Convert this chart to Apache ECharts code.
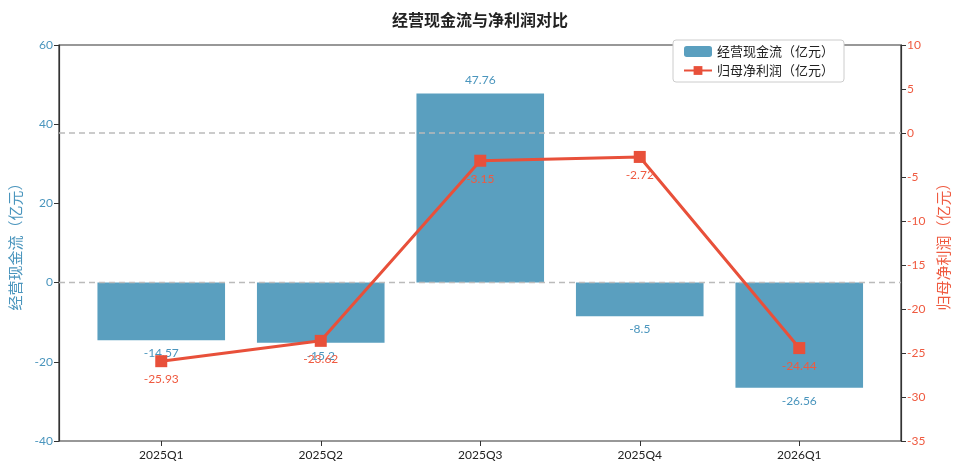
<!DOCTYPE html>
<html>
<head>
<meta charset="utf-8">
<script src="https://cdn.jsdelivr.net/npm/echarts@6/dist/echarts.min.js"></script>
<style>
  html, body { margin: 0; padding: 0; background: #fff; }
  #main { width: 960px; height: 473px; }
</style>
</head>
<body>
<div id="main"></div>
<script>
// 数据
var quarters = ['2025Q1', '2025Q2', '2025Q3', '2025Q4', '2026Q1']
var cashFlow = [-14.57, -15.2, 47.76, -8.5, -26.56]
var netProfit = [-25.93, -23.62, -3.15, -2.72, -24.44]

var barColor = '#5a9fbf'
var lineColor = '#e8503a'
var leftText = '#4a95bd'
var rightText = '#ef5a40'
var font = "Lato, 'Noto Sans CJK SC', sans-serif"

var chart = echarts.init(document.getElementById('main'))
chart.setOption({
  animation: false,
  textStyle: { fontFamily: font },
  title: {
    text: '经营现金流与净利润对比',
    left: 'center',
    top: 8,
    textStyle: { fontSize: 16, fontWeight: 'bold', color: '#222', fontFamily: font }
  },
  legend: {
    data: ['经营现金流（亿元）', '归母净利润（亿元）'],
    orient: 'vertical',
    left: 673,
    top: 40,
    padding: [5, 10],
    itemGap: 6,
    itemWidth: 28,
    itemHeight: 11,
    borderColor: '#ccc',
    borderWidth: 1,
    borderRadius: 3,
    backgroundColor: '#fff',
    textStyle: { fontSize: 13, color: '#222' }
  },
  grid: [
    // 外框
    { left: 59, right: 59, top: 45, bottom: 32, show: true, borderColor: '#333', borderWidth: 1.2 },
    // 柱子所在区域
    { left: 81.5, right: 81, top: 45, bottom: 32 }
  ],
  xAxis: [
    { type: 'value', gridIndex: 0, min: 0, max: 1, show: false },
    {
      type: 'category',
      gridIndex: 1,
      data: quarters,
      axisLine: { show: false, onZero: false },
      axisTick: { show: true, alignWithLabel: true, length: 5, lineStyle: { color: '#333' } },
      axisLabel: { color: '#222', fontSize: 12, margin: 8 }
    }
  ],
  yAxis: [
    {
      type: 'value',
      gridIndex: 0,
      position: 'left',
      min: -40,
      max: 60,
      interval: 20,
      name: '经营现金流（亿元）',
      nameLocation: 'middle',
      nameRotate: 90,
      nameGap: 33,
      nameTextStyle: { color: leftText, fontSize: 15 },
      axisLine: { show: true, lineStyle: { color: '#333', width: 1.2 } },
      axisTick: { show: true, length: 5, lineStyle: { color: '#333' } },
      axisLabel: { color: leftText, fontSize: 12, margin: 6 },
      splitLine: { show: false }
    },
    {
      type: 'value',
      gridIndex: 0,
      position: 'right',
      min: -35,
      max: 10,
      interval: 5,
      name: '归母净利润（亿元）',
      nameLocation: 'middle',
      nameRotate: 90,
      nameGap: 34,
      nameTextStyle: { color: rightText, fontSize: 15 },
      axisLine: { show: true, lineStyle: { color: '#333', width: 1.2 } },
      axisTick: { show: true, length: 5, lineStyle: { color: '#333' } },
      axisLabel: { color: rightText, fontSize: 12, margin: 6 },
      splitLine: { show: false }
    },
    { type: 'value', gridIndex: 1, min: -40, max: 60, show: false },
    { type: 'value', gridIndex: 1, min: -35, max: 10, show: false }
  ],
  series: [
    {
      name: '经营现金流（亿元）',
      type: 'bar',
      xAxisIndex: 1,
      yAxisIndex: 2,
      // 负值标签放到柱子下方
      data: cashFlow.map(function (v) {
        return { value: v, label: { position: v < 0 ? 'bottom' : 'top' } }
      }),
      barWidth: '80%',
      z: 2,
      itemStyle: { color: barColor },
      label: {
        show: true,
        color: leftText,
        fontSize: 12,
        distance: 7
      }
    },
    {
      name: '归母净利润（亿元）',
      type: 'line',
      xAxisIndex: 1,
      yAxisIndex: 3,
      data: netProfit,
      z: 5,
      symbol: 'rect',
      symbolSize: 12,
      lineStyle: { color: lineColor, width: 3 },
      itemStyle: { color: lineColor },
      label: {
        show: true,
        position: 'bottom',
        distance: 6,
        color: rightText,
        fontSize: 12
      }
    },
    {
      name: 'zero-left',
      type: 'line',
      xAxisIndex: 0,
      yAxisIndex: 0,
      data: [[0, 0], [1, 0]],
      symbol: 'none',
      silent: true,
      z: 3,
      lineStyle: { color: '#bbb', width: 1.5, type: [6, 4] }
    },
    {
      name: 'zero-right',
      type: 'line',
      xAxisIndex: 0,
      yAxisIndex: 1,
      data: [[0, 0], [1, 0]],
      symbol: 'none',
      silent: true,
      z: 3,
      lineStyle: { color: '#bbb', width: 1.5, type: [6, 4] }
    }
  ]
})
</script>
</body>
</html>
